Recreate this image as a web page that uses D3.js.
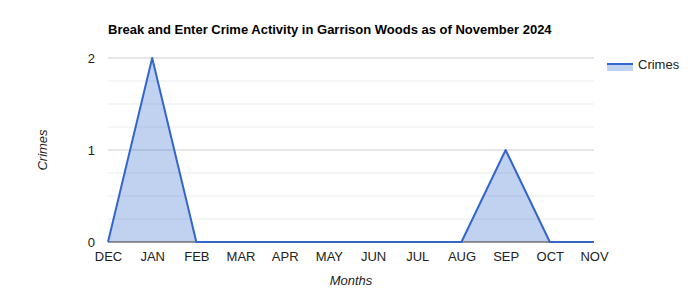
<!DOCTYPE html>
<html>
<head>
<meta charset="utf-8">
<script src="https://cdn.jsdelivr.net/npm/d3@7"></script>
<style>
  body { margin: 0; background: #fff; }
  text { font-family: Arial, "Liberation Sans", sans-serif; }
</style>
</head>
<body>
<div class="chart"></div>
<script>
const months = ["DEC", "JAN", "FEB", "MAR", "APR", "MAY", "JUN", "JUL", "AUG", "SEP", "OCT", "NOV"]
const crimes = [0, 2, 0, 0, 0, 0, 0, 0, 0, 1, 0, 0]
const yTicks = [0, 1, 2]
const yMinorTicks = [0.25, 0.5, 0.75, 1.25, 1.5, 1.75]

const data = months.map((m, i) => ({month: m, value: crimes[i]}))

const margin = {top: 58, right: 106, bottom: 58, left: 108}
const width = 700 - margin.left - margin.right
const height = 300 - margin.top - margin.bottom

const root = d3.select(".chart").append("svg")
    .attr("width", 700)
    .attr("height", 300)

const svg = root.append("g")
    .attr("transform", `translate(${margin.left},${margin.top})`)

const x = d3.scalePoint()
    .domain(months)
    .range([0, width])

const y = d3.scaleLinear()
    .domain([0, 2])
    .range([height, 0])

// gridlines
svg.append("g")
    .selectAll("line")
    .data(yMinorTicks)
    .join("line")
        .attr("x1", 0)
        .attr("x2", width)
        .attr("y1", d => y(d))
        .attr("y2", d => y(d))
        .attr("stroke", "#ebebeb")

svg.append("g")
    .selectAll("line")
    .data(yTicks.filter(d => d > 0))
    .join("line")
        .attr("x1", 0)
        .attr("x2", width)
        .attr("y1", d => y(d))
        .attr("y2", d => y(d))
        .attr("stroke", "#cccccc")

const area = d3.area()
    .x(d => x(d.month))
    .y0(y(0))
    .y1(d => y(d.value))

const line = d3.line()
    .x(d => x(d.month))
    .y(d => y(d.value))

svg.append("path")
    .datum(data)
    .attr("fill", "#3366cc")
    .attr("fill-opacity", 0.3)
    .attr("d", area)

// baseline
svg.append("line")
    .attr("x1", 0)
    .attr("x2", width)
    .attr("y1", y(0))
    .attr("y2", y(0))
    .attr("stroke", "#333")

svg.append("path")
    .datum(data)
    .attr("fill", "none")
    .attr("stroke", "#3366cc")
    .attr("stroke-width", 2)
    .attr("stroke-linejoin", "round")
    .attr("d", line)

// axes
const yAxis = d3.axisLeft(y)
    .tickValues(yTicks)
    .tickFormat(d3.format("d"))
    .tickSize(0)
    .tickPadding(13)

svg.append("g")
    .call(yAxis)
    .call(g => g.select(".domain").remove())
    .call(g => g.selectAll("text")
        .attr("font-size", 13)
        .attr("fill", "#222")
        .style("font-family", "Arial, 'Liberation Sans', sans-serif"))

const xAxis = d3.axisBottom(x)
    .tickSize(0)
    .tickPadding(10)

svg.append("g")
    .attr("transform", `translate(0,${height})`)
    .call(xAxis)
    .call(g => g.select(".domain").remove())
    .call(g => g.selectAll("text")
        .attr("font-size", 13)
        .attr("fill", "#222")
        .style("font-family", "Arial, 'Liberation Sans', sans-serif"))

// titles
root.append("text")
    .attr("x", 108)
    .attr("y", 34)
    .attr("font-size", 13)
    .attr("font-weight", "bold")
    .attr("fill", "#000")
    .text("Break and Enter Crime Activity in Garrison Woods as of November 2024")

root.append("text")
    .attr("x", margin.left + width / 2)
    .attr("y", 285)
    .attr("text-anchor", "middle")
    .attr("font-size", 13)
    .attr("font-style", "italic")
    .attr("fill", "#222")
    .text("Months")

root.append("text")
    .attr("transform", `translate(47,${margin.top + height / 2}) rotate(-90)`)
    .attr("text-anchor", "middle")
    .attr("font-size", 13)
    .attr("font-style", "italic")
    .attr("fill", "#222")
    .text("Crimes")

// legend
const legend = root.append("g")
    .attr("transform", "translate(607,64)")

legend.append("rect")
    .attr("x", 0)
    .attr("y", 0)
    .attr("width", 26)
    .attr("height", 7)
    .attr("fill", "#3366cc")
    .attr("fill-opacity", 0.3)

legend.append("line")
    .attr("x1", 0)
    .attr("x2", 26)
    .attr("y1", 0)
    .attr("y2", 0)
    .attr("stroke", "#3366cc")
    .attr("stroke-width", 2)

legend.append("text")
    .attr("x", 31)
    .attr("y", 4.5)
    .attr("font-size", 13)
    .attr("fill", "#222")
    .text("Crimes")
</script>
</body>
</html>
